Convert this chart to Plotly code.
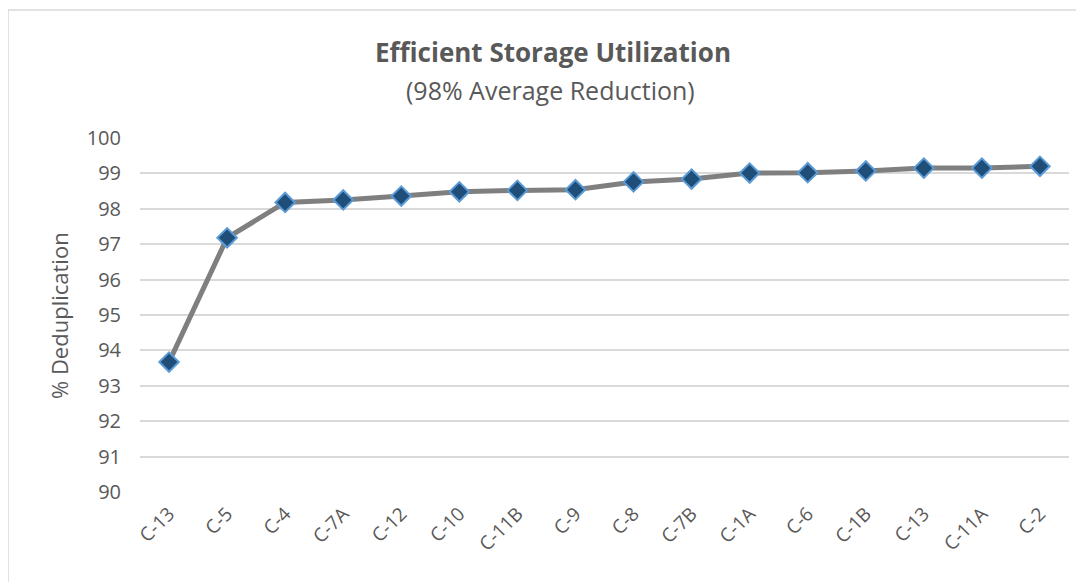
import plotly.graph_objects as go

categories = ["C-13", "C-5", "C-4", "C-7A", "C-12", "C-10", "C-11B", "C-9",
              "C-8", "C-7B", "C-1A", "C-6", "C-1B", "C-13", "C-11A", "C-2"]
dedup_pct = [93.67, 97.18, 98.18, 98.25, 98.36, 98.48, 98.52, 98.54,
             98.76, 98.84, 99.01, 99.02, 99.07, 99.15, 99.15, 99.20]
y_ticks = [90, 91, 92, 93, 94, 95, 96, 97, 98, 99, 100]

x_pos = list(range(len(categories)))

TXT = "#595959"
FONT = "Open Sans"

fig = go.Figure()
fig.add_trace(go.Scatter(
    x=x_pos, y=dedup_pct, mode="lines+markers",
    line=dict(color="#7f7f7f", width=5),
    marker=dict(symbol="diamond", size=15, color="#1f4e79",
                line=dict(color="#5b9bd5", width=2)),
    showlegend=False, hoverinfo="x+y",
))

# page body adds an 8px offset; figure sized to fit the window
OFF = 8
W, H = 1084 - OFF, 582 - OFF
L, R, T, B = 140 - OFF, 15, 138 - OFF, 90
pw, ph = W - L - R, H - T - B

def px_x(sx):  # screen x -> paper
    return (sx - OFF - L) / pw

def px_y(sy):  # screen y -> paper
    return (H - B - (sy - OFF)) / ph

fig.update_layout(
    width=W, height=H,
    margin=dict(l=L, r=R, t=T, b=B, autoexpand=False),
    paper_bgcolor="white", plot_bgcolor="white",
    font=dict(family=FONT, color=TXT),
    xaxis=dict(
        tickmode="array", tickvals=x_pos, ticktext=categories,
        range=[-0.5, len(categories) - 0.5],
        tickangle=-45, tickfont=dict(size=19, color=TXT, family=FONT),
        showgrid=False, zeroline=False, showline=False, ticks="",
        ticklabelstandoff=6, automargin=False,
    ),
    yaxis=dict(
        range=[90, 100], tickvals=y_ticks,
        tickfont=dict(size=20, color=TXT, family=FONT),
        showgrid=True, gridcolor="#d9d9d9", gridwidth=1.5,
        zeroline=False, showline=False, ticks="", ticklabelstandoff=18,
        automargin=False,
    ),
    annotations=[
        dict(text="<b>Efficient Storage Utilization</b>", xref="paper", yref="paper",
             x=px_x(553), y=px_y(52), xanchor="center", yanchor="middle",
             showarrow=False, font=dict(size=26, color=TXT, family=FONT)),
        dict(text="(98% Average Reduction)", xref="paper", yref="paper",
             x=px_x(550), y=px_y(90), xanchor="center", yanchor="middle",
             showarrow=False, font=dict(size=25, color=TXT, family=FONT)),
        dict(text="% Deduplication", xref="paper", yref="paper",
             x=px_x(59), y=px_y(316), xanchor="center", yanchor="middle",
             textangle=-90, showarrow=False,
             font=dict(size=22, color=TXT, family=FONT)),
    ],
    shapes=[
        dict(type="line", xref="paper", yref="paper",
             x0=px_x(8), x1=px_x(8), y0=px_y(10), y1=px_y(590),
             line=dict(color="#d9d9d9", width=1.5)),
        dict(type="line", xref="paper", yref="paper",
             x0=px_x(8), x1=px_x(1090), y0=px_y(10), y1=px_y(10),
             line=dict(color="#d9d9d9", width=1.5)),
    ],
)

fig.write_html("out.html")
